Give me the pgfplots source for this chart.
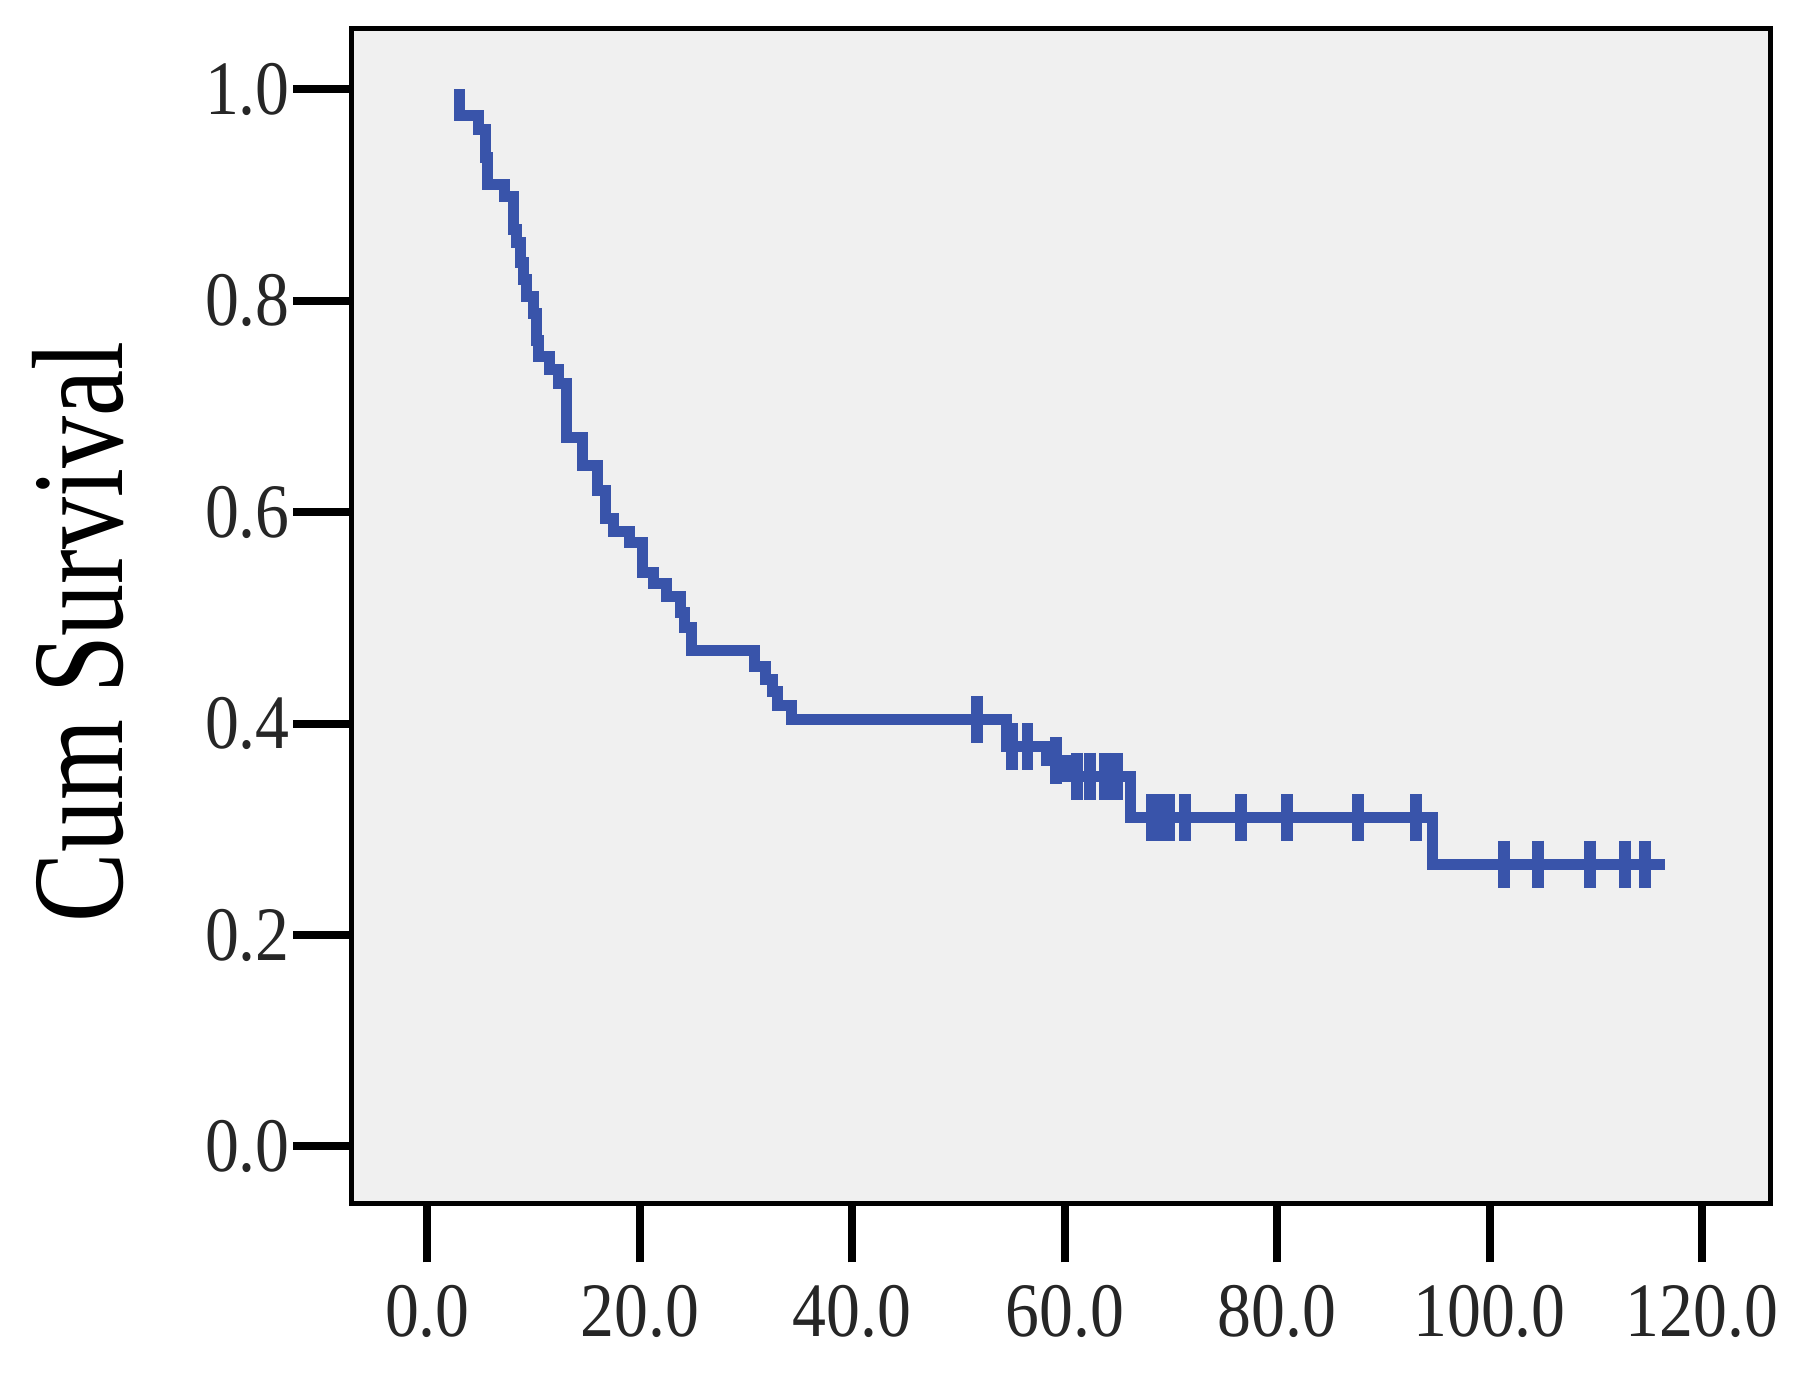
\documentclass[border=0pt]{standalone}
\usepackage{fontspec}
\setmainfont{Liberation Serif}
\newfontfamily\tickfont{Liberation Serif}[FakeStretch=0.88]
\newfontfamily\labfont{Liberation Serif}[FakeStretch=0.8]
\usepackage{pgfplots}
\pgfplotsset{compat=1.18}
\definecolor{kmblue}{RGB}{57,84,170}
\definecolor{bggray}{RGB}{240,240,240}
\begin{document}
\begin{tikzpicture}
\path[use as bounding box] (-70.4pt,-35.2pt) rectangle (292pt,240.8pt);
\begin{axis}[
  at={(0,0)}, anchor=south west,
  scale only axis, width=283.8pt, height=235pt,
  xmin=-7.1, xmax=126.5, ymin=-0.0545, ymax=1.057,
  xtick={0,20,40,60,80,100,120},
  ytick={0,0.2,0.4,0.6,0.8,1.0},
  xtick pos=bottom, ytick pos=left,
  tick align=outside, major tick length=11.7pt,
  tick style={black, line width=1.6pt},
  axis line style={black, line width=1pt},
  axis background/.style={fill=bggray},
  /pgf/number format/assume math mode=true,
  /pgf/number format/.cd, fixed, fixed zerofill, precision=1, /pgfplots/.cd,
  tick label style={font=\tickfont\fontsize{15.4}{18}\selectfont, text=black!85},
  xticklabel style={yshift=-1pt},
  yticklabel style={xshift=2.8pt},
  ylabel={Cum Survival},
  ylabel style={font=\labfont\fontsize{26}{30}\selectfont, at={(axis description cs:-0.193,0.487)}, anchor=center},
  clip=false,
]
\addplot[const plot, kmblue, line width=2.2pt] coordinates {
(3.05,1.000)
(3.05,0.975)
(4.77,0.962)
(5.47,0.935)
(5.65,0.910)
(7.29,0.899)
(8.14,0.867)
(8.35,0.855)
(8.77,0.836)
(9.08,0.820)
(9.33,0.804)
(10.0,0.788)
(10.3,0.762)
(10.5,0.747)
(11.5,0.735)
(12.3,0.722)
(13.1,0.671)
(14.6,0.644)
(16.0,0.620)
(16.8,0.594)
(17.5,0.582)
(19.0,0.571)
(20.25,0.543)
(21.3,0.532)
(22.5,0.520)
(23.8,0.505)
(24.2,0.491)
(24.9,0.469)
(30.8,0.454)
(31.8,0.442)
(32.5,0.430)
(33.0,0.417)
(34.3,0.404)
(54.5,0.378)
(58.3,0.365)
(60.3,0.350)
(66.2,0.311)
(94.6,0.267)
(116.5,0.267)
};
\addplot[only marks, mark=|, mark size=4.7pt, kmblue, mark options={line width=2.4pt}] coordinates {
(51.7,0.404)
(55.0,0.378) (56.5,0.378)
(59.2,0.365)
(61.2,0.350) (62.4,0.350) (63.8,0.350) (64.9,0.350)
(68.2,0.311) (69.0,0.311) (69.8,0.311) (71.3,0.311) (76.6,0.311) (80.9,0.311) (87.6,0.311) (93.1,0.311)
(101.4,0.267) (104.6,0.267) (109.5,0.267) (112.8,0.267) (114.6,0.267)
};
\end{axis}
\end{tikzpicture}
\end{document}
